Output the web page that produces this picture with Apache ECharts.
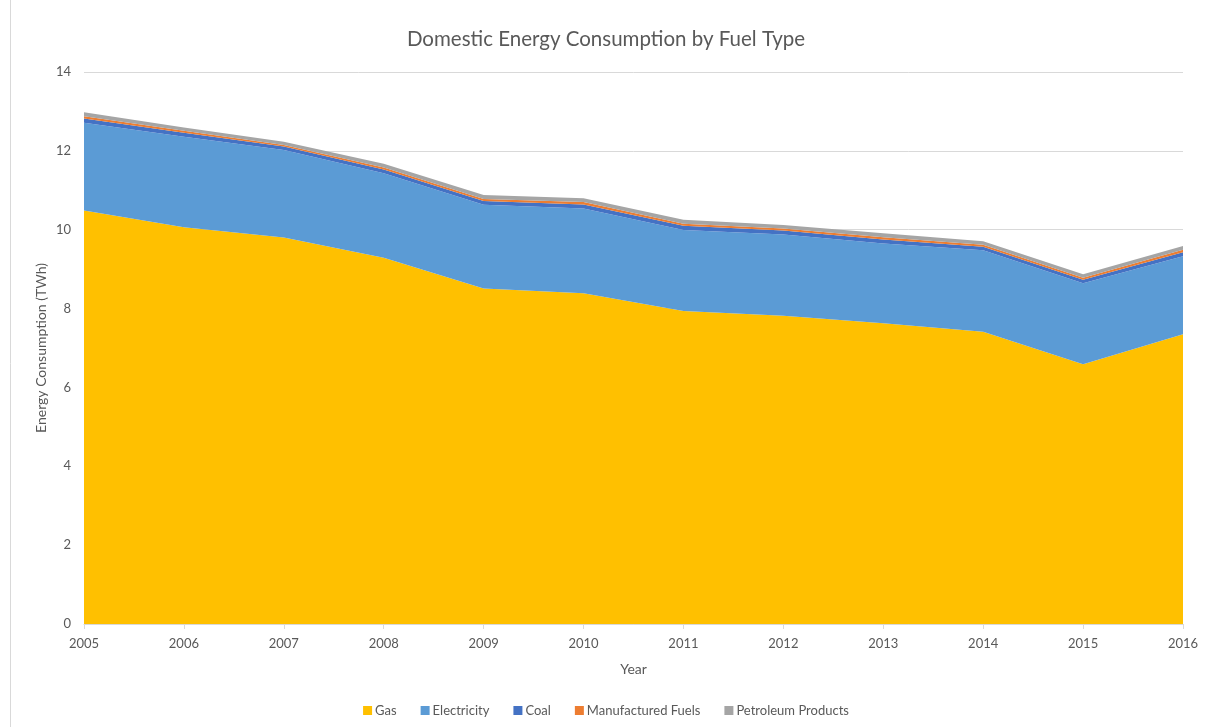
<!DOCTYPE html>
<html>
<head>
<meta charset="utf-8">
<script src="https://cdn.jsdelivr.net/npm/echarts@6/dist/echarts.min.js"></script>
<style>
  html, body { margin: 0; padding: 0; background: #ffffff; }
  #chart { width: 1212px; height: 727px; }
</style>
</head>
<body>
<div id="chart"></div>
<script>
// Domestic energy consumption (TWh), stacked by fuel type
const years = ['2005', '2006', '2007', '2008', '2009', '2010', '2011', '2012', '2013', '2014', '2015', '2016'];
const gas = [10.49, 10.06, 9.80, 9.29, 8.51, 8.39, 7.94, 7.82, 7.63, 7.41, 6.59, 7.35];
const electricity = [2.22, 2.30, 2.22, 2.14, 2.12, 2.15, 2.05, 2.06, 2.02, 2.07, 2.05, 1.98];
const coal = [0.11, 0.10, 0.09, 0.10, 0.10, 0.10, 0.11, 0.10, 0.10, 0.09, 0.09, 0.10];
const manufacturedFuels = [0.06, 0.05, 0.04, 0.05, 0.05, 0.06, 0.05, 0.05, 0.06, 0.05, 0.05, 0.06];
const petroleumProducts = [0.10, 0.08, 0.08, 0.09, 0.10, 0.10, 0.10, 0.09, 0.10, 0.09, 0.09, 0.10];
const yTicks = [0, 2, 4, 6, 8, 10, 12, 14];

const FONT = 'Lato, "Open Sans", sans-serif';
const TEXT = '#595959';

const seriesDefs = [
  { name: 'Gas', data: gas, color: '#FFC000' },
  { name: 'Electricity', data: electricity, color: '#5B9BD5' },
  { name: 'Coal', data: coal, color: '#4472C4' },
  { name: 'Manufactured Fuels', data: manufacturedFuels, color: '#ED7D31' },
  { name: 'Petroleum Products', data: petroleumProducts, color: '#A5A5A5' }
];

const chart = echarts.init(document.getElementById('chart'));
chart.setOption({
  animation: false,
  backgroundColor: '#ffffff',
  textStyle: { fontFamily: FONT },
  title: {
    text: 'Domestic Energy Consumption by Fuel Type',
    left: 'center',
    top: 24,
    textStyle: { fontFamily: FONT, fontSize: 20.5, fontWeight: 'normal', color: TEXT }
  },
  legend: {
    bottom: 5,
    left: 'center',
    itemWidth: 9,
    itemHeight: 9,
    itemGap: 24,
    icon: 'rect',
    textStyle: { fontFamily: FONT, fontSize: 13, color: TEXT, padding: [0, 0, 0, -2] },
    data: seriesDefs.map(s => s.name)
  },
  grid: { left: 84, right: 29, top: 72, bottom: 103 },
  xAxis: {
    type: 'category',
    data: years,
    boundaryGap: false,
    name: 'Year',
    nameLocation: 'middle',
    nameGap: 38,
    nameTextStyle: { fontFamily: FONT, fontSize: 14, color: TEXT },
    axisLine: { lineStyle: { color: '#D9D9D9', width: 1 } },
    axisTick: { show: true, length: 5, lineStyle: { color: '#D9D9D9' } },
    axisLabel: { fontFamily: FONT, fontSize: 13, color: TEXT, margin: 13 }
  },
  yAxis: {
    type: 'value',
    min: yTicks[0],
    max: yTicks[yTicks.length - 1],
    interval: 2,
    name: 'Energy Consumption (TWh)',
    nameLocation: 'middle',
    nameGap: 36,
    nameMoveOverlap: false,
    nameTextStyle: { fontFamily: FONT, fontSize: 14, color: TEXT },
    axisLine: { show: false },
    axisTick: { show: false },
    axisLabel: { fontFamily: FONT, fontSize: 13, color: TEXT, margin: 13 },
    splitLine: { lineStyle: { color: '#D9D9D9', width: 1 } }
  },
  graphic: [{
    type: 'line',
    shape: { x1: 10.5, y1: 0, x2: 10.5, y2: 727 },
    style: { stroke: '#D9D9D9', lineWidth: 1 },
    silent: true
  }],
  series: seriesDefs.map(s => ({
    name: s.name,
    type: 'line',
    stack: 'total',
    data: s.data,
    symbol: 'none',
    lineStyle: { width: 0 },
    itemStyle: { color: s.color },
    areaStyle: { color: s.color, opacity: 1 },
    emphasis: { disabled: true }
  }))
});
</script>
</body>
</html>
